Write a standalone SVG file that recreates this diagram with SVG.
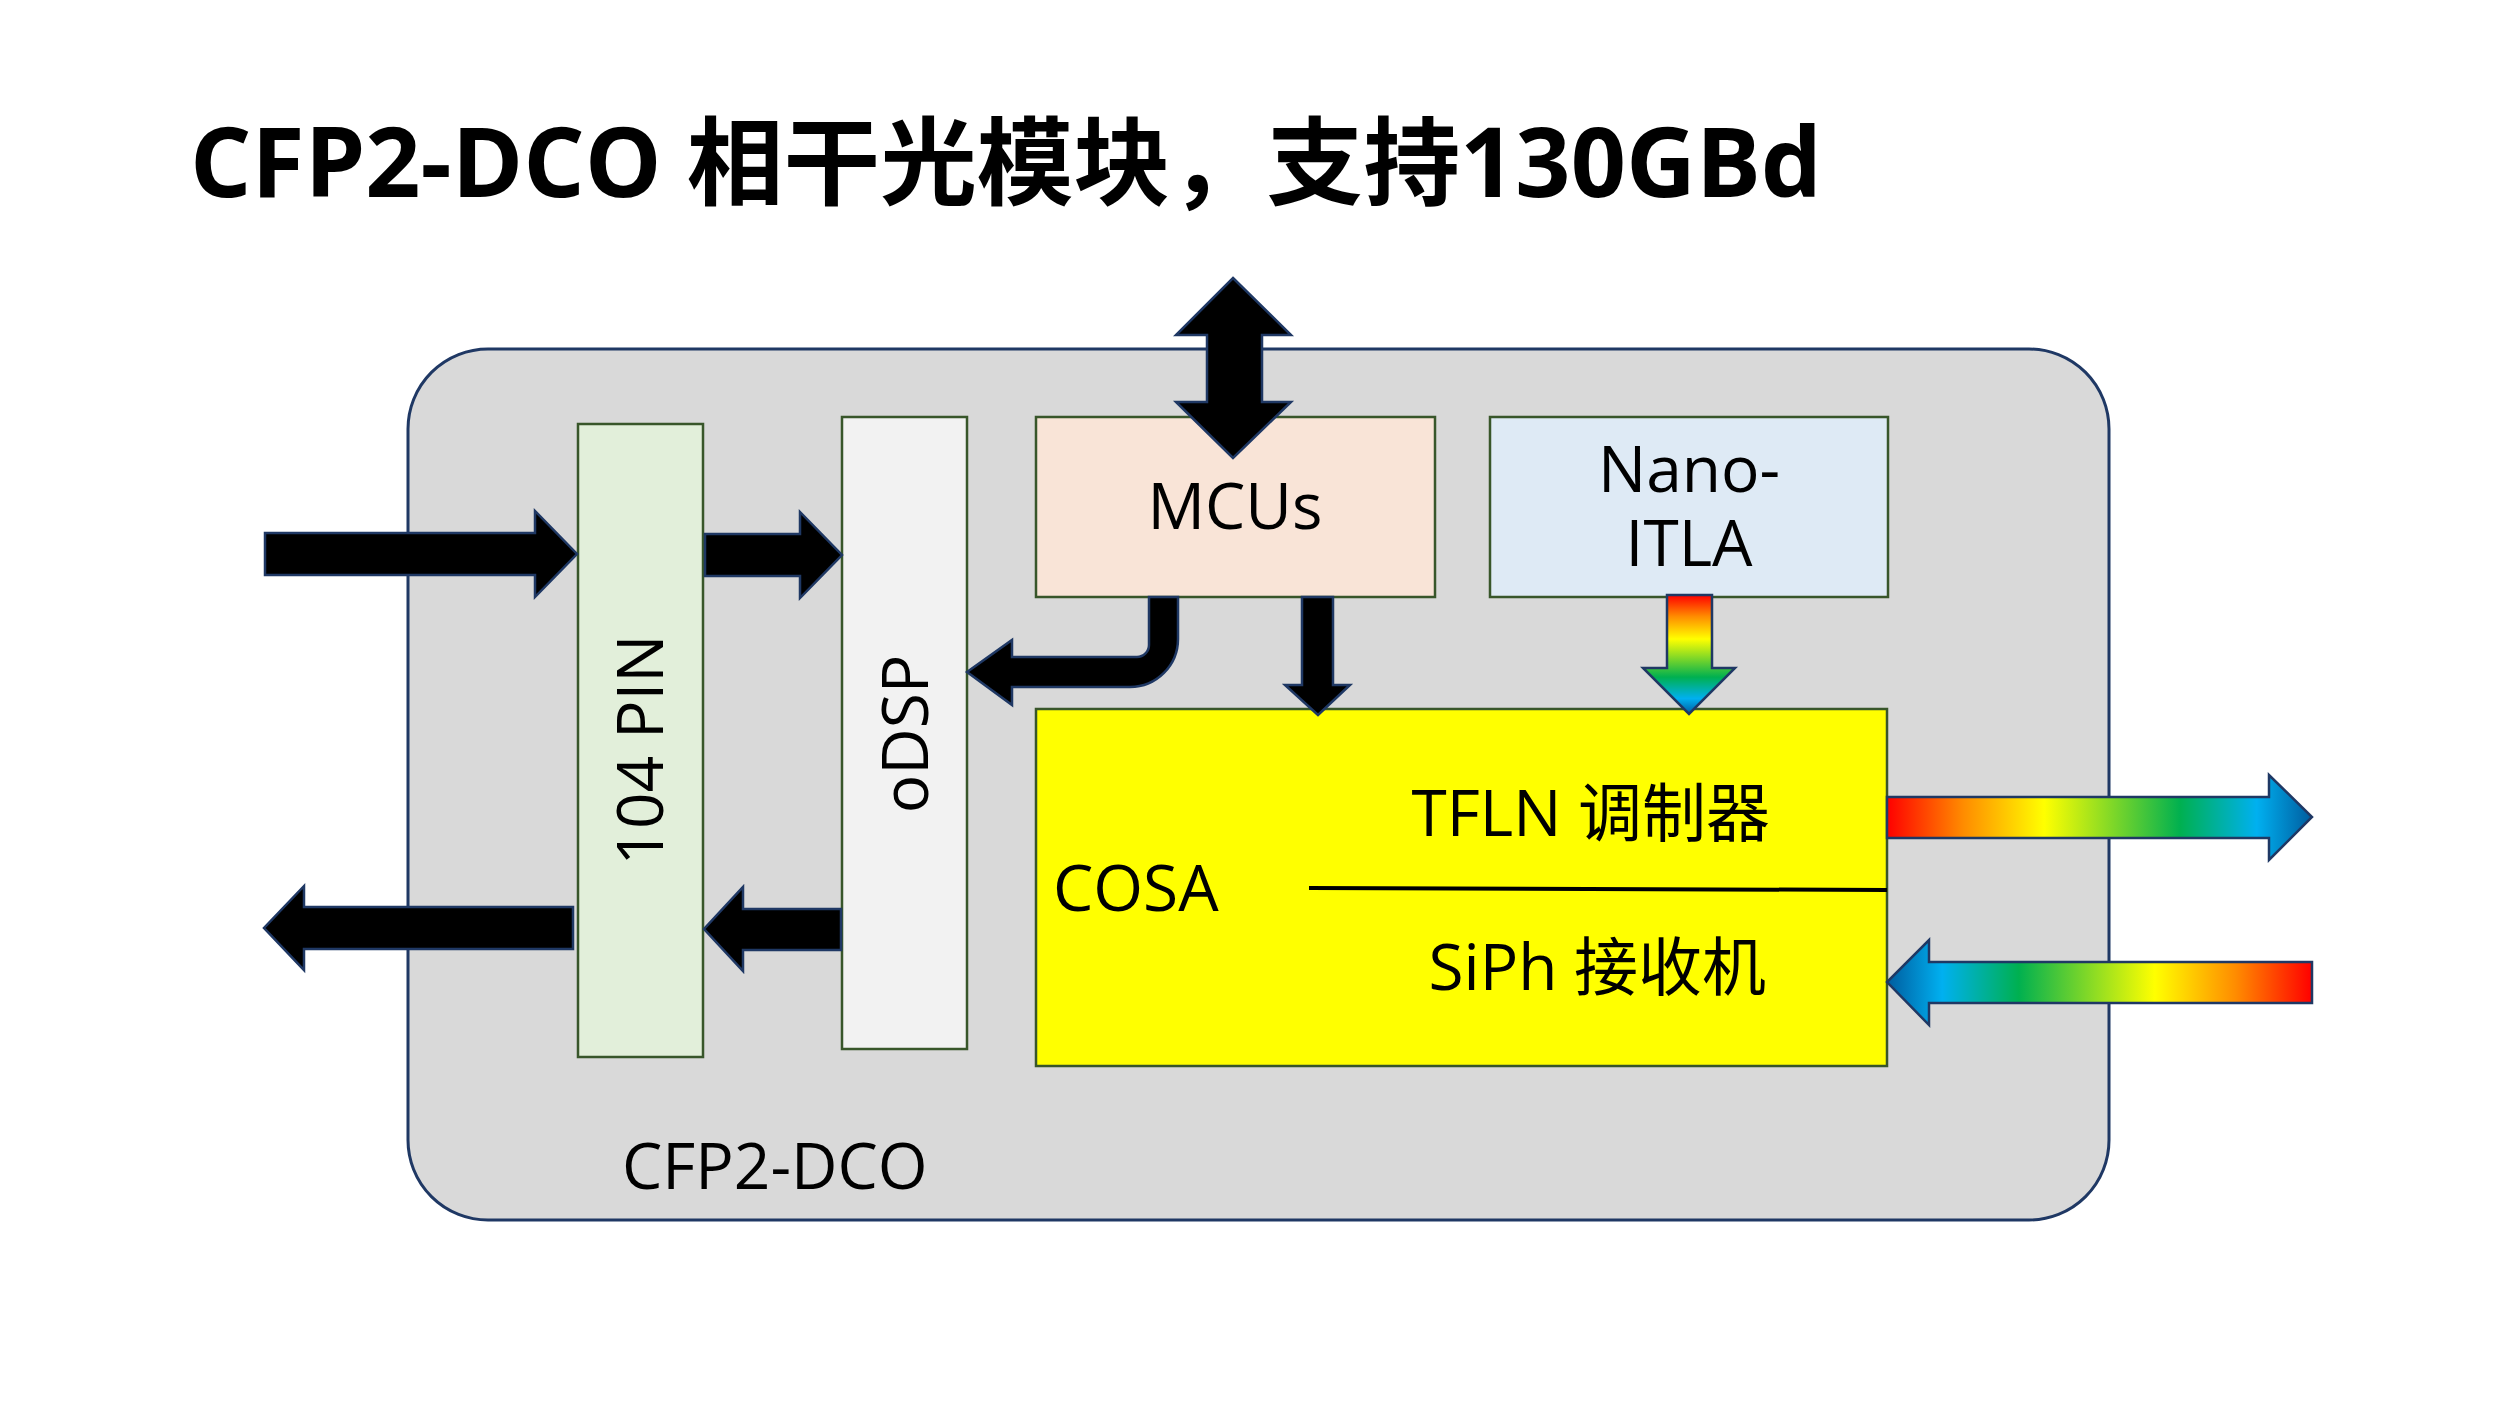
<svg xmlns="http://www.w3.org/2000/svg" width="2500" height="1406" viewBox="0 0 2500 1406">
<defs>
<style>
.lbl{font-family:"Open Sans","Noto Sans CJK SC",sans-serif;font-size:64px;fill:#000}
.box{stroke:#38562A;stroke-width:2.5}
.blk{fill:#000;stroke:#1F3864;stroke-width:2.5;stroke-linejoin:miter}
.rb{stroke:#1F3864;stroke-width:2.5}
</style>
<linearGradient id="rbR" x1="0" y1="0" x2="1" y2="0">
<stop offset="0" stop-color="#FF0000"/>
<stop offset="0.18" stop-color="#FF8C00"/>
<stop offset="0.37" stop-color="#FFFF00"/>
<stop offset="0.69" stop-color="#00B050"/>
<stop offset="0.87" stop-color="#00B0F0"/>
<stop offset="1" stop-color="#005C9E"/>
</linearGradient>
<linearGradient id="rbL" x1="1" y1="0" x2="0" y2="0">
<stop offset="0" stop-color="#FF0000"/>
<stop offset="0.18" stop-color="#FF8C00"/>
<stop offset="0.37" stop-color="#FFFF00"/>
<stop offset="0.69" stop-color="#00B050"/>
<stop offset="0.87" stop-color="#00B0F0"/>
<stop offset="1" stop-color="#005C9E"/>
</linearGradient>
<linearGradient id="rbD" x1="0" y1="0" x2="0" y2="1">
<stop offset="0" stop-color="#FF0000"/>
<stop offset="0.18" stop-color="#FF8C00"/>
<stop offset="0.37" stop-color="#FFFF00"/>
<stop offset="0.69" stop-color="#00B050"/>
<stop offset="0.87" stop-color="#00B0F0"/>
<stop offset="1" stop-color="#005C9E"/>
</linearGradient>
</defs>
<rect width="2500" height="1406" fill="#FFFFFF"/>

<text id="title" x="190" y="197" textLength="1632" lengthAdjust="spacingAndGlyphs" style="font-family:'Open Sans','Noto Sans CJK SC',sans-serif;font-weight:bold;font-size:96px;fill:#000">CFP2-DCO 相干光模块，支持130GBd</text>

<g id="module">
<rect x="408" y="349" width="1701" height="871" rx="80" ry="80" fill="#D9D9D9" stroke="#1F3864" stroke-width="3"/>
<text class="lbl" x="622" y="1189">CFP2-DCO</text>
</g>

<g id="pin">
<rect class="box" x="578" y="424" width="125" height="633" fill="#E2EFDA"/>
<text class="lbl" transform="translate(663,750) rotate(-90)" text-anchor="middle">104 PIN</text>
</g>

<g id="odsp">
<rect class="box" x="842" y="417" width="125" height="632" fill="#F2F2F2"/>
<text class="lbl" transform="translate(928,734) rotate(-90)" text-anchor="middle">oDSP</text>
</g>

<g id="mcus">
<rect class="box" x="1036" y="417" width="399" height="180" fill="#F9E4D7"/>
<text class="lbl" x="1235" y="529" text-anchor="middle">MCUs</text>
</g>

<g id="itla">
<rect class="box" x="1490" y="417" width="398" height="180" fill="#DEEAF5"/>
<text class="lbl" text-anchor="middle"><tspan x="1689" y="492">Nano-</tspan><tspan x="1689" y="566">ITLA</tspan></text>
</g>

<g id="cosa">
<rect class="box" x="1036" y="709" width="851" height="357" fill="#FFFF00"/>
<line x1="1309" y1="888" x2="1887" y2="890" stroke="#000" stroke-width="4"/>
<text class="lbl" x="1053" y="911">COSA</text>
<text class="lbl" x="1770" y="836" text-anchor="end">TFLN 调制器</text>
<text class="lbl" x="1766" y="990" text-anchor="end">SiPh 接收机</text>
</g>

<g id="connectors">
<polygon class="blk" points="265,533 535,533 535,511 577,554 535,597 535,575 265,575"/>
<polygon class="blk" points="705,534 800,534 800,512 842,555 800,598 800,576 705,576"/>
<polygon class="blk" points="573,907 304,907 304,886 264,928 304,970 304,949 573,949"/>
<polygon class="blk" points="841,909 743,909 743,887 704,929 743,971 743,950 841,950"/>
<polygon class="blk" points="1233,278 1291,335 1262,335 1262,402 1291,402 1233,458 1176,402 1207,402 1207,335 1176,335"/>
<path class="blk" d="M1178,597 L1178,639 A48,48 0 0 1 1130,687 L1012,687 L1012,705 L967,672 L1012,640 L1012,657 L1137,657 A12,12 0 0 0 1149,645 L1149,597 Z"/>
<polygon class="blk" points="1302,597 1333,597 1333,685 1350,685 1318,715 1285,685 1302,685"/>
<polygon class="rb" fill="url(#rbD)" points="1667,595 1712,595 1712,668 1735,668 1689,714 1643,668 1667,668"/>
<polygon class="rb" fill="url(#rbR)" points="1887,797 2269,797 2269,775 2312,817 2269,860 2269,838 1887,838"/>
<polygon class="rb" fill="url(#rbL)" points="2312,962 1929,962 1929,940 1887,982 1929,1025 1929,1003 2312,1003"/>
</g>
</svg>
